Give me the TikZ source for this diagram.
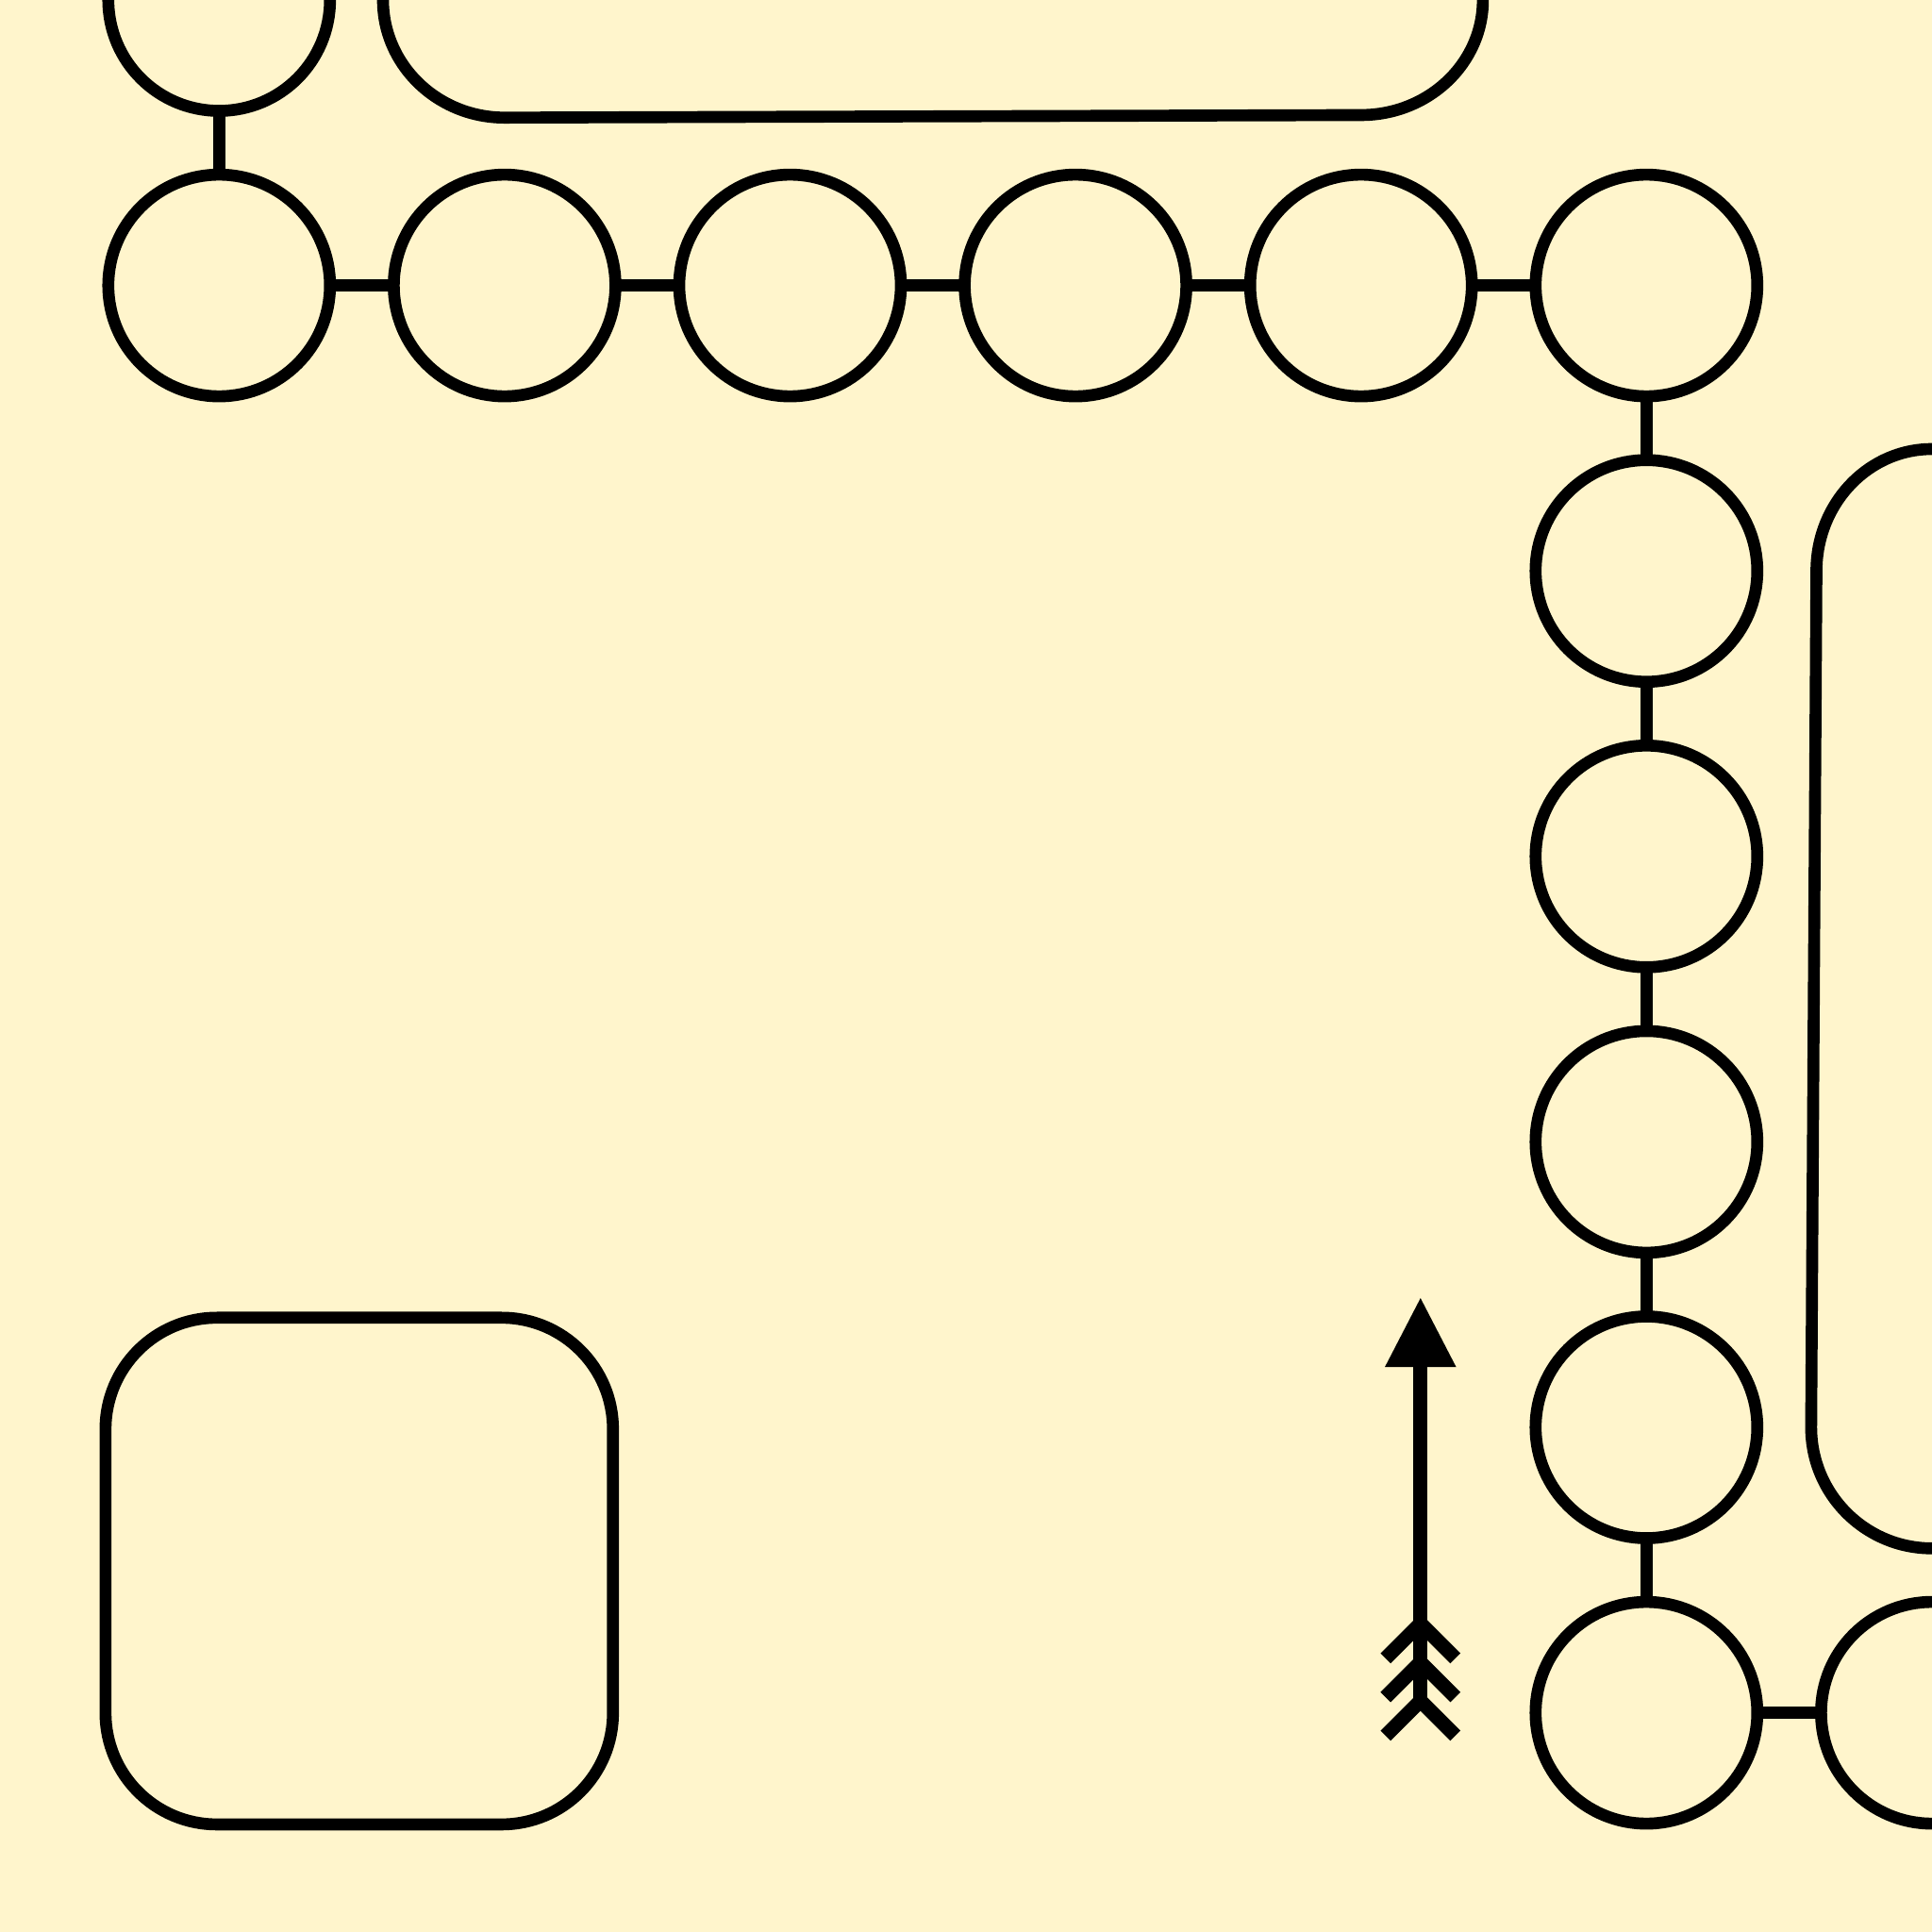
\documentclass[tikz,border=0pt]{standalone}
\usepackage{xcolor}
\usepackage{tikz}
\usetikzlibrary{arrows.meta, positioning}

\definecolor{bgcream}{RGB}{255,245,204}

\begin{document}
\begin{tikzpicture}[
      x=3.026cm, y=3.026cm,
      mycircle/.style={
         circle,
         draw=black,
         line width=3.6pt,
         inner sep=0pt,
         outer sep=0pt,
         minimum size=2.35cm},
      myline/.style={line width=3.6pt},
      mybox/.style={draw=black, line width=3.6pt},
      myarrow/.style={line width=4.3pt, -{Triangle[length=0.74cm, width=0.71cm]}},
      myfletch/.style={line width=4.3pt, line join=bevel}
      ]
      \useasboundingbox (-0.7677,-6.7680) rectangle (6.0003,0);
      \fill[bgcream] (-0.7677,-6.7680) rectangle (6.0003,0);
      \clip (-0.7677,-6.7680) rectangle (6.0003,0);

      % track of circles
      \node[mycircle]  at (0, 0) (t0) {};
      \foreach \i in {0,...,5}
        \node[mycircle]  at (\i, -1) (c\i) {};
      \foreach \j in {2,...,6}
        \node[mycircle]  at (5, -\j) (r\j) {};
      \node[mycircle]  at (6, -6) (b6) {};

    \foreach \a/\b in {% from/to
      t0/c0, c0/c1, c1/c2, c2/c3, c3/c4, c4/c5,
      c5/r2, r2/r3, r3/r4, r4/r5, r5/r6, r6/b6%
      }
       \draw [myline] (\a) -- (\b);

      % areas
      \draw[mybox] (0.574,0.2) -- (0.574,0)
         arc[start angle=180, end angle=270, x radius=0.426, y radius=0.412]
         -- (4,-0.403)
         arc[start angle=270, end angle=360, x radius=0.427, y radius=0.403]
         -- (4.427,0.2);
      \draw[mybox] (6.2,-1.573) -- (6,-1.573)
         arc[start angle=90, end angle=180, x radius=0.4045, y radius=0.427]
         -- (5.577,-5)
         arc[start angle=180, end angle=270, x radius=0.423, y radius=0.424]
         -- (6.2,-5.424);
      \draw[mybox, rounded corners=1.18cm] (-0.398,-4.616) rectangle (1.3795,-6.391);

      % arrow
      \coordinate (tip) at (4.2085,-4.544);
      \coordinate (tail) at (4.2085,-5.958);
      \draw [myarrow] (tail) -- (tip);
    \foreach \y in {5.687,5.823,5.958}
       \draw [myfletch] (4.0862,-\y-0.1223) -- (4.2085,-\y) -- (4.3308,-\y-0.1223);

    \end{tikzpicture}
\end{document}
